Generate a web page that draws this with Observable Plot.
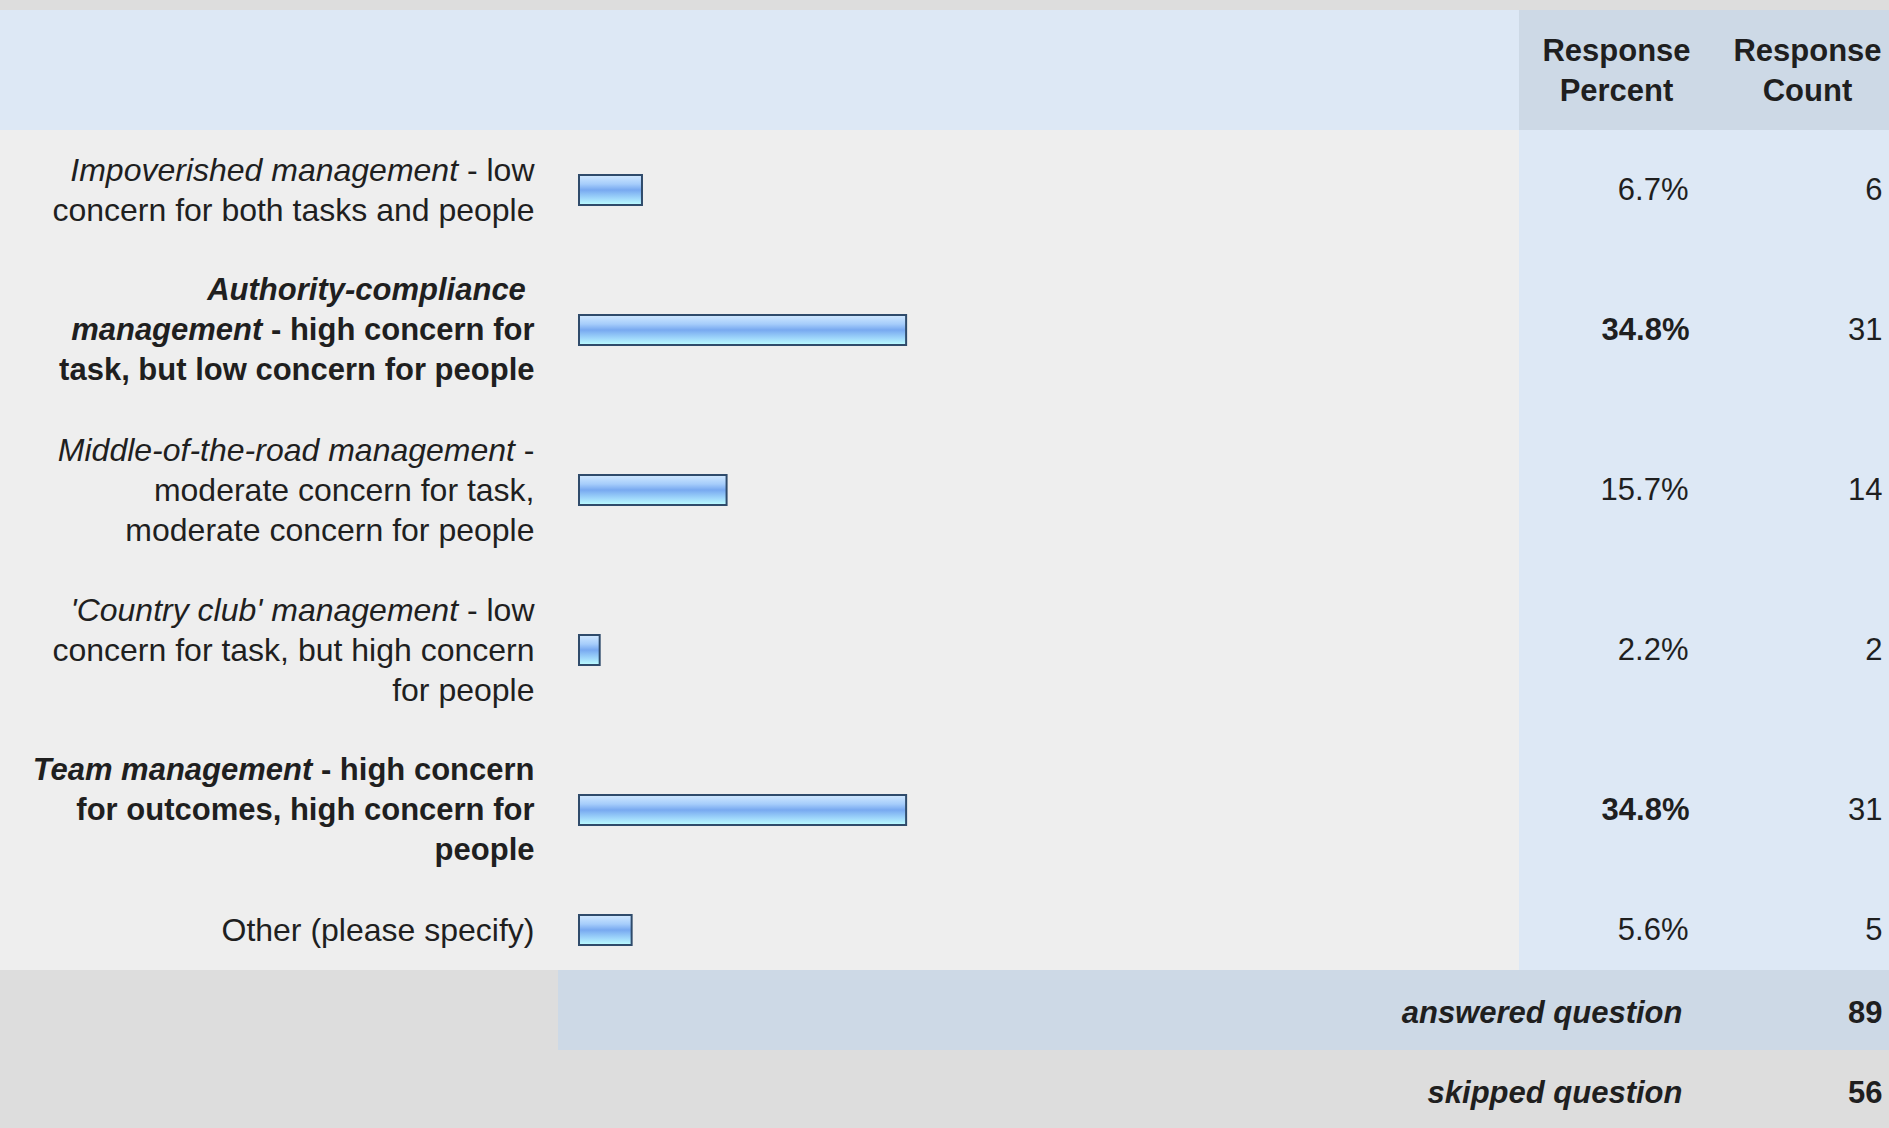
<!DOCTYPE html>
<html>
<head>
<meta charset="utf-8">
<script src="https://cdn.jsdelivr.net/npm/d3@7"></script>
<script src="https://cdn.jsdelivr.net/npm/@observablehq/plot@0.6"></script>
<style>
html, body { margin: 0; padding: 0; background: #dddddd; }
#chart svg { display: block; }
</style>
</head>
<body>
<div id="chart"></div>
<script>
// ---------- data ----------
// _..._ marks italic text inside a label; \n is a line break as in the source table
const categories = [
  "_Impoverished management_ - low\nconcern for both tasks and people",
  "_Authority-compliance_\u00A0\n_management_ - high concern for\ntask, but low concern for people",
  "_Middle-of-the-road management_ -\nmoderate concern for task,\nmoderate concern for people",
  "_'Country club' management_ - low\nconcern for task, but high concern\nfor people",
  "_Team management_ - high concern\nfor outcomes, high concern for\npeople",
  "Other (please specify)"
];
const percents = [6.7, 34.8, 15.7, 2.2, 34.8, 5.6];
const percentLabels = ["6.7%", "34.8%", "15.7%", "2.2%", "34.8%", "5.6%"];
const counts = [6, 31, 14, 2, 31, 5];
const headerLabels = ["Response\nPercent", "Response\nCount"];
const footerLabels = ["answered question", "skipped question"];
const footerValues = [89, 56];

// ---------- layout ----------
const W = 1889, H = 1128;
const X0 = 579, X1 = 1519;          // pixel span of 0..100 %
const TOP = 10, UNIT = 40;          // one text line = one unit
const xInv = px => (px - X0) / (X1 - X0) * 100;

const HEADER_UNITS = 3, FOOTER_UNITS = 2;
const rowLines = categories.map(c => c.split("\n").length);
const rowUnits = rowLines.map(n => n + 1);
const rowTop = [];
let acc = HEADER_UNITS;
rowUnits.forEach(u => { rowTop.push(acc); acc += u; });
const rowsEnd = acc;
const totalUnits = rowsEnd + 2 * FOOTER_UNITS;
const maxP = d3.max(percents);

const rows = categories.map((c, i) => ({
  label: c, p: percents[i], pl: percentLabels[i], n: counts[i],
  lines: rowLines[i], yc: rowTop[i] + rowUnits[i] / 2, bold: percents[i] === maxP
}));
const lines = rows.flatMap(r => r.label.split("\n").map((m, k) => ({
  markup: m, y: r.yc + (k - (r.lines - 1) / 2), bold: r.bold
})));
const footer = footerLabels.map((l, i) => ({
  label: l, value: footerValues[i], yc: rowsEnd + FOOTER_UNITS * i + FOOTER_UNITS / 2 + 0.06
}));

const strip = s => s.replace(/_/g, "");
const parse = s => s.split("_").map((t, i) => ({text: t, italic: i % 2 === 1})).filter(d => d.text.length);

const FS = 31;
const ink = "#1f1f1f";
const FONT = "'Liberation Sans', Arial, Helvetica, sans-serif";

const chart = Plot.plot({
  width: W, height: H, margin: 0,
  x: {domain: [0, 100], range: [X0, X1], axis: null},
  y: {domain: [0, totalUnits], range: [TOP, TOP + totalUnits * UNIT], axis: null},
  style: {background: "#dddddd", fontFamily: FONT, color: ink, maxWidth: "none"},
  marks: [
    // backgrounds
    Plot.rect([0], {y1: 0, y2: HEADER_UNITS, fill: "#dde8f5"}),
    Plot.rect([0], {x1: 100, x2: xInv(W + 5), y1: 0, y2: HEADER_UNITS, fill: "#cdd9e6"}),
    Plot.rect([0], {y1: HEADER_UNITS, y2: rowsEnd, fill: "#eeeeee"}),
    Plot.rect([0], {x1: 100, x2: xInv(W + 5), y1: HEADER_UNITS, y2: rowsEnd, fill: "#dde8f5"}),
    Plot.rect([0], {x1: xInv(558), x2: xInv(W + 5), y1: rowsEnd, y2: rowsEnd + FOOTER_UNITS, fill: "#cdd9e6"}),
    // bars
    Plot.rect(rows, {x1: 0, x2: "p", y1: d => d.yc - 0.375, y2: d => d.yc + 0.375,
      fill: "url(#barGrad)", stroke: "#2f4b6b", strokeWidth: 2}),
    // row labels (styled afterwards)
    Plot.text(lines, {x: xInv(534), y: "y", text: d => strip(d.markup), textAnchor: "end",
      fontSize: d => d.bold ? 31 : 32, fill: ink, ariaDescription: "rowlabel"}),
    // header
    Plot.text(headerLabels, {x: (d, i) => i === 0 ? xInv(1616) : xInv(1807), y: HEADER_UNITS / 2 - 0.05,
      text: d => d, textAnchor: "middle", fontWeight: "bold", fontSize: FS, lineHeight: UNIT / FS, fill: ink}),
    // percents and counts
    Plot.text(rows, {filter: d => !d.bold, x: xInv(1688), y: "yc", text: "pl", textAnchor: "end", fontSize: FS, fill: ink}),
    Plot.text(rows, {filter: d => d.bold, x: xInv(1689), y: "yc", text: "pl", textAnchor: "end", fontSize: FS, fontWeight: "bold", fill: ink}),
    Plot.text(rows, {x: xInv(1882), y: "yc", text: d => String(d.n), textAnchor: "end", fontSize: FS, fill: ink}),
    // footer
    Plot.text(footer, {x: xInv(1682), y: "yc", text: "label", textAnchor: "end", fontSize: FS,
      fontStyle: "italic", fontWeight: "bold", fill: ink}),
    Plot.text(footer, {x: xInv(1882), y: "yc", text: d => String(d.value), textAnchor: "end", fontSize: FS,
      fontWeight: "bold", fill: ink})
  ]
});

// gradient for the bars
const ns = "http://www.w3.org/2000/svg";
const defs = document.createElementNS(ns, "defs");
defs.innerHTML = `<linearGradient id="barGrad" x1="0" y1="0" x2="0" y2="1">
  <stop offset="0" stop-color="#d2e9ff"/>
  <stop offset="0.3" stop-color="#a6cdfb"/>
  <stop offset="0.5" stop-color="#78a9f0"/>
  <stop offset="0.78" stop-color="#a0d8fb"/>
  <stop offset="1" stop-color="#bdffff"/>
</linearGradient>`;
chart.insertBefore(defs, chart.firstChild);

// rich text for the row labels
let labelGroup = chart.querySelector('g[aria-description="rowlabel"]');
if (!labelGroup) {
  labelGroup = Array.from(chart.querySelectorAll("g")).find(g =>
    g.querySelectorAll("text").length === lines.length &&
    g.querySelector("text") && g.querySelector("text").textContent === strip(lines[0].markup));
}
if (labelGroup) {
  labelGroup.querySelectorAll("text").forEach((t, j) => {
    const ln = lines[j];
    if (!ln) return;
    t.textContent = "";
    if (ln.bold) t.setAttribute("font-weight", "bold");
    parse(ln.markup).forEach(seg => {
      const ts = document.createElementNS(ns, "tspan");
      if (seg.italic) ts.setAttribute("font-style", "italic");
      ts.textContent = seg.text;
      t.appendChild(ts);
    });
  });
}

document.getElementById("chart").appendChild(chart);
</script>
</body>
</html>
